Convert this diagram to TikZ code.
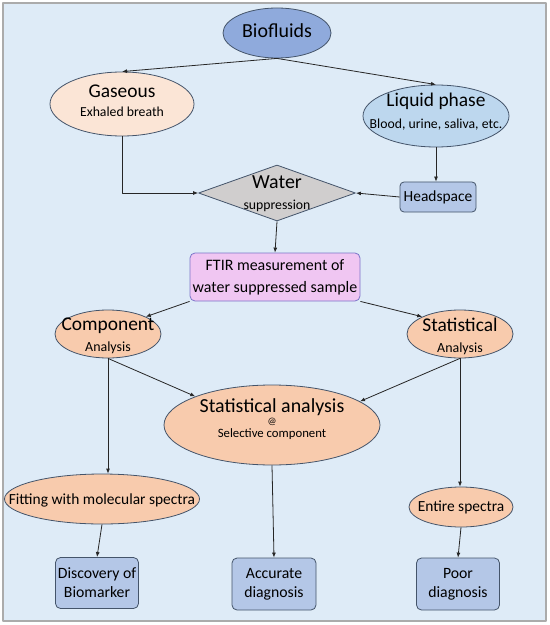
\documentclass[tikz,border=0pt]{standalone}
\usepackage{fontspec}
\setmainfont{Carlito}
\usetikzlibrary{arrows.meta,shapes.geometric}
\definecolor{paleback}{HTML}{DEEBF7}
\definecolor{framegray}{HTML}{ABABAB}
\definecolor{bioblue}{HTML}{8FAADC}
\definecolor{breathpeach}{HTML}{FBE5D6}
\definecolor{liquidblue}{HTML}{BDD7EE}
\definecolor{watergray}{HTML}{D0CECE}
\definecolor{boxblue}{HTML}{B4C7E7}
\definecolor{ftirpink}{HTML}{F0C6F2}
\definecolor{ftirborder}{HTML}{7B74C9}
\definecolor{analysisorange}{HTML}{F8CBAD}
\definecolor{outlineslate}{HTML}{44546A}
\definecolor{linedark}{HTML}{262626}

\newcommand{\bigtxt}{\fontsize{19.5}{21}\selectfont}
\newcommand{\midtxt}{\fontsize{15.5}{17}\selectfont}

\tikzset{
  oval/.style={ellipse,draw=outlineslate,line width=0.8bp,inner sep=0pt},
  roundbox/.style={rectangle,rounded corners=5bp,draw=outlineslate,line width=0.8bp,
    fill=boxblue,inner sep=1bp,align=center,font=\midtxt},
  caption/.style={align=center,inner sep=0pt},
  flow/.style={-{Latex[length=5bp,width=4bp]},draw=linedark,line width=0.8bp}
}

\begin{document}
\begin{tikzpicture}[x=1bp,y=-1bp,line join=round]
  \useasboundingbox (0,0) rectangle (550,625);
  \draw[framegray,line width=2bp,fill=paleback] (3,3) rectangle (546,621);

  % sources
  \node[oval,fill=bioblue,draw=outlineslate,minimum width=108bp,minimum height=50bp]
    (bio) at (277,33) {};
  \node[caption,font=\fontsize{20}{22}\selectfont] (bio-t) at (277,31) {Biofluids};

  \node[oval,fill=breathpeach,minimum width=144bp,minimum height=64bp] (gas) at (122,104) {};
  \node[caption,font=\fontsize{13.8}{19}\selectfont] (gas-t) at (122,101)
    {{\bigtxt Gaseous}\\Exhaled breath};

  \node[oval,fill=liquidblue,minimum width=146bp,minimum height=62bp] (liq) at (436,116) {};
  \node[caption,font=\fontsize{13.8}{22}\selectfont] (liq-t) at (436,112)
    {{\bigtxt Liquid phase}\\Blood, urine, saliva, etc.};

  % water suppression step
  \node[diamond,draw=outlineslate,line width=0.8bp,fill=watergray,inner sep=0pt,
    minimum width=157bp,minimum height=56bp] (water) at (277,193) {};
  \node[caption,font=\fontsize{13.8}{21}\selectfont] (water-t) at (277,194)
    {{\fontsize{20}{22}\selectfont Water}\\suppression};

  \node[roundbox,minimum width=76bp,minimum height=30bp,rounded corners=4bp]
    (head) at (438,197) {Headspace};

  \node[roundbox,fill=ftirpink,draw=ftirborder,minimum width=170bp,minimum height=48bp,
    font=\fontsize{16}{22}\selectfont] (ftir) at (275,277)
    {FTIR measurement of\\water suppressed sample};

  % analysis routes
  \node[oval,fill=analysisorange,minimum width=106bp,minimum height=48bp] (comp) at (108,334) {};
  \node[caption,font=\fontsize{14}{21}\selectfont] (comp-t) at (108,336)
    {{\bigtxt Component}\\Analysis};

  \node[oval,fill=analysisorange,minimum width=106bp,minimum height=48bp] (stat) at (460,334) {};
  \node[caption,font=\fontsize{14}{21}\selectfont] (stat-t) at (460,336)
    {{\bigtxt Statistical}\\Analysis};

  \node[oval,fill=analysisorange,minimum width=216bp,minimum height=80bp] (sa) at (272,425) {};
  \node[caption,font=\fontsize{12.8}{12.5}\selectfont] (sa-t) at (272,419)
    {{\fontsize{20}{22}\selectfont Statistical analysis}\\{\fontsize{10}{10}\selectfont @}\\Selective component};

  \node[oval,fill=analysisorange,minimum width=195bp,minimum height=50bp] (fit) at (102,499) {};
  \node[caption,font=\midtxt] (fit-t) at (102,500) {Fitting with molecular spectra};

  \node[oval,fill=analysisorange,minimum width=104bp,minimum height=40bp] (ent) at (461,507) {};
  \node[caption,font=\midtxt] (ent-t) at (461,507) {Entire spectra};

  % outcomes
  \node[roundbox,minimum width=83bp,minimum height=51bp,font=\fontsize{15.8}{19}\selectfont]
    (disc) at (97,583) {Discovery of\\Biomarker};
  \node[roundbox,minimum width=84bp,minimum height=52bp,font=\fontsize{15.8}{19}\selectfont]
    (acc) at (274,584) {Accurate\\diagnosis};
  \node[roundbox,minimum width=83bp,minimum height=52bp,font=\fontsize{15.8}{19}\selectfont]
    (poor) at (458,584) {Poor\\diagnosis};

  % connectors
  \draw[flow] (bio.south) -- (gas.north);
  \draw[flow] (bio.south) -- (liq.north);
  \draw[flow] (gas.south) |- (water.west);
  \draw[flow] (liq.south) -- (liq.south |- head.north);
  \draw[flow] (head.west) -- (water.east);
  \draw[flow] (water.south) -- (ftir.north);
  \draw[flow] (ftir.south west) -- (comp.north east);
  \draw[flow] (ftir.south east) -- (stat.north west);
  \draw[flow] (comp.south) -- (sa.north west);
  \draw[flow] (stat.south) -- (sa.15);
  \draw[flow] (comp.south) -- (comp.south |- fit.north);
  \draw[flow] (stat.south) -- (stat.south |- ent.north);
  \draw[flow] (sa.south) -- (acc.north);
  \draw[flow] (fit.south) -- (disc.north);
  \draw[flow] (ent.south) -- (poor.north);
\end{tikzpicture}
\end{document}
